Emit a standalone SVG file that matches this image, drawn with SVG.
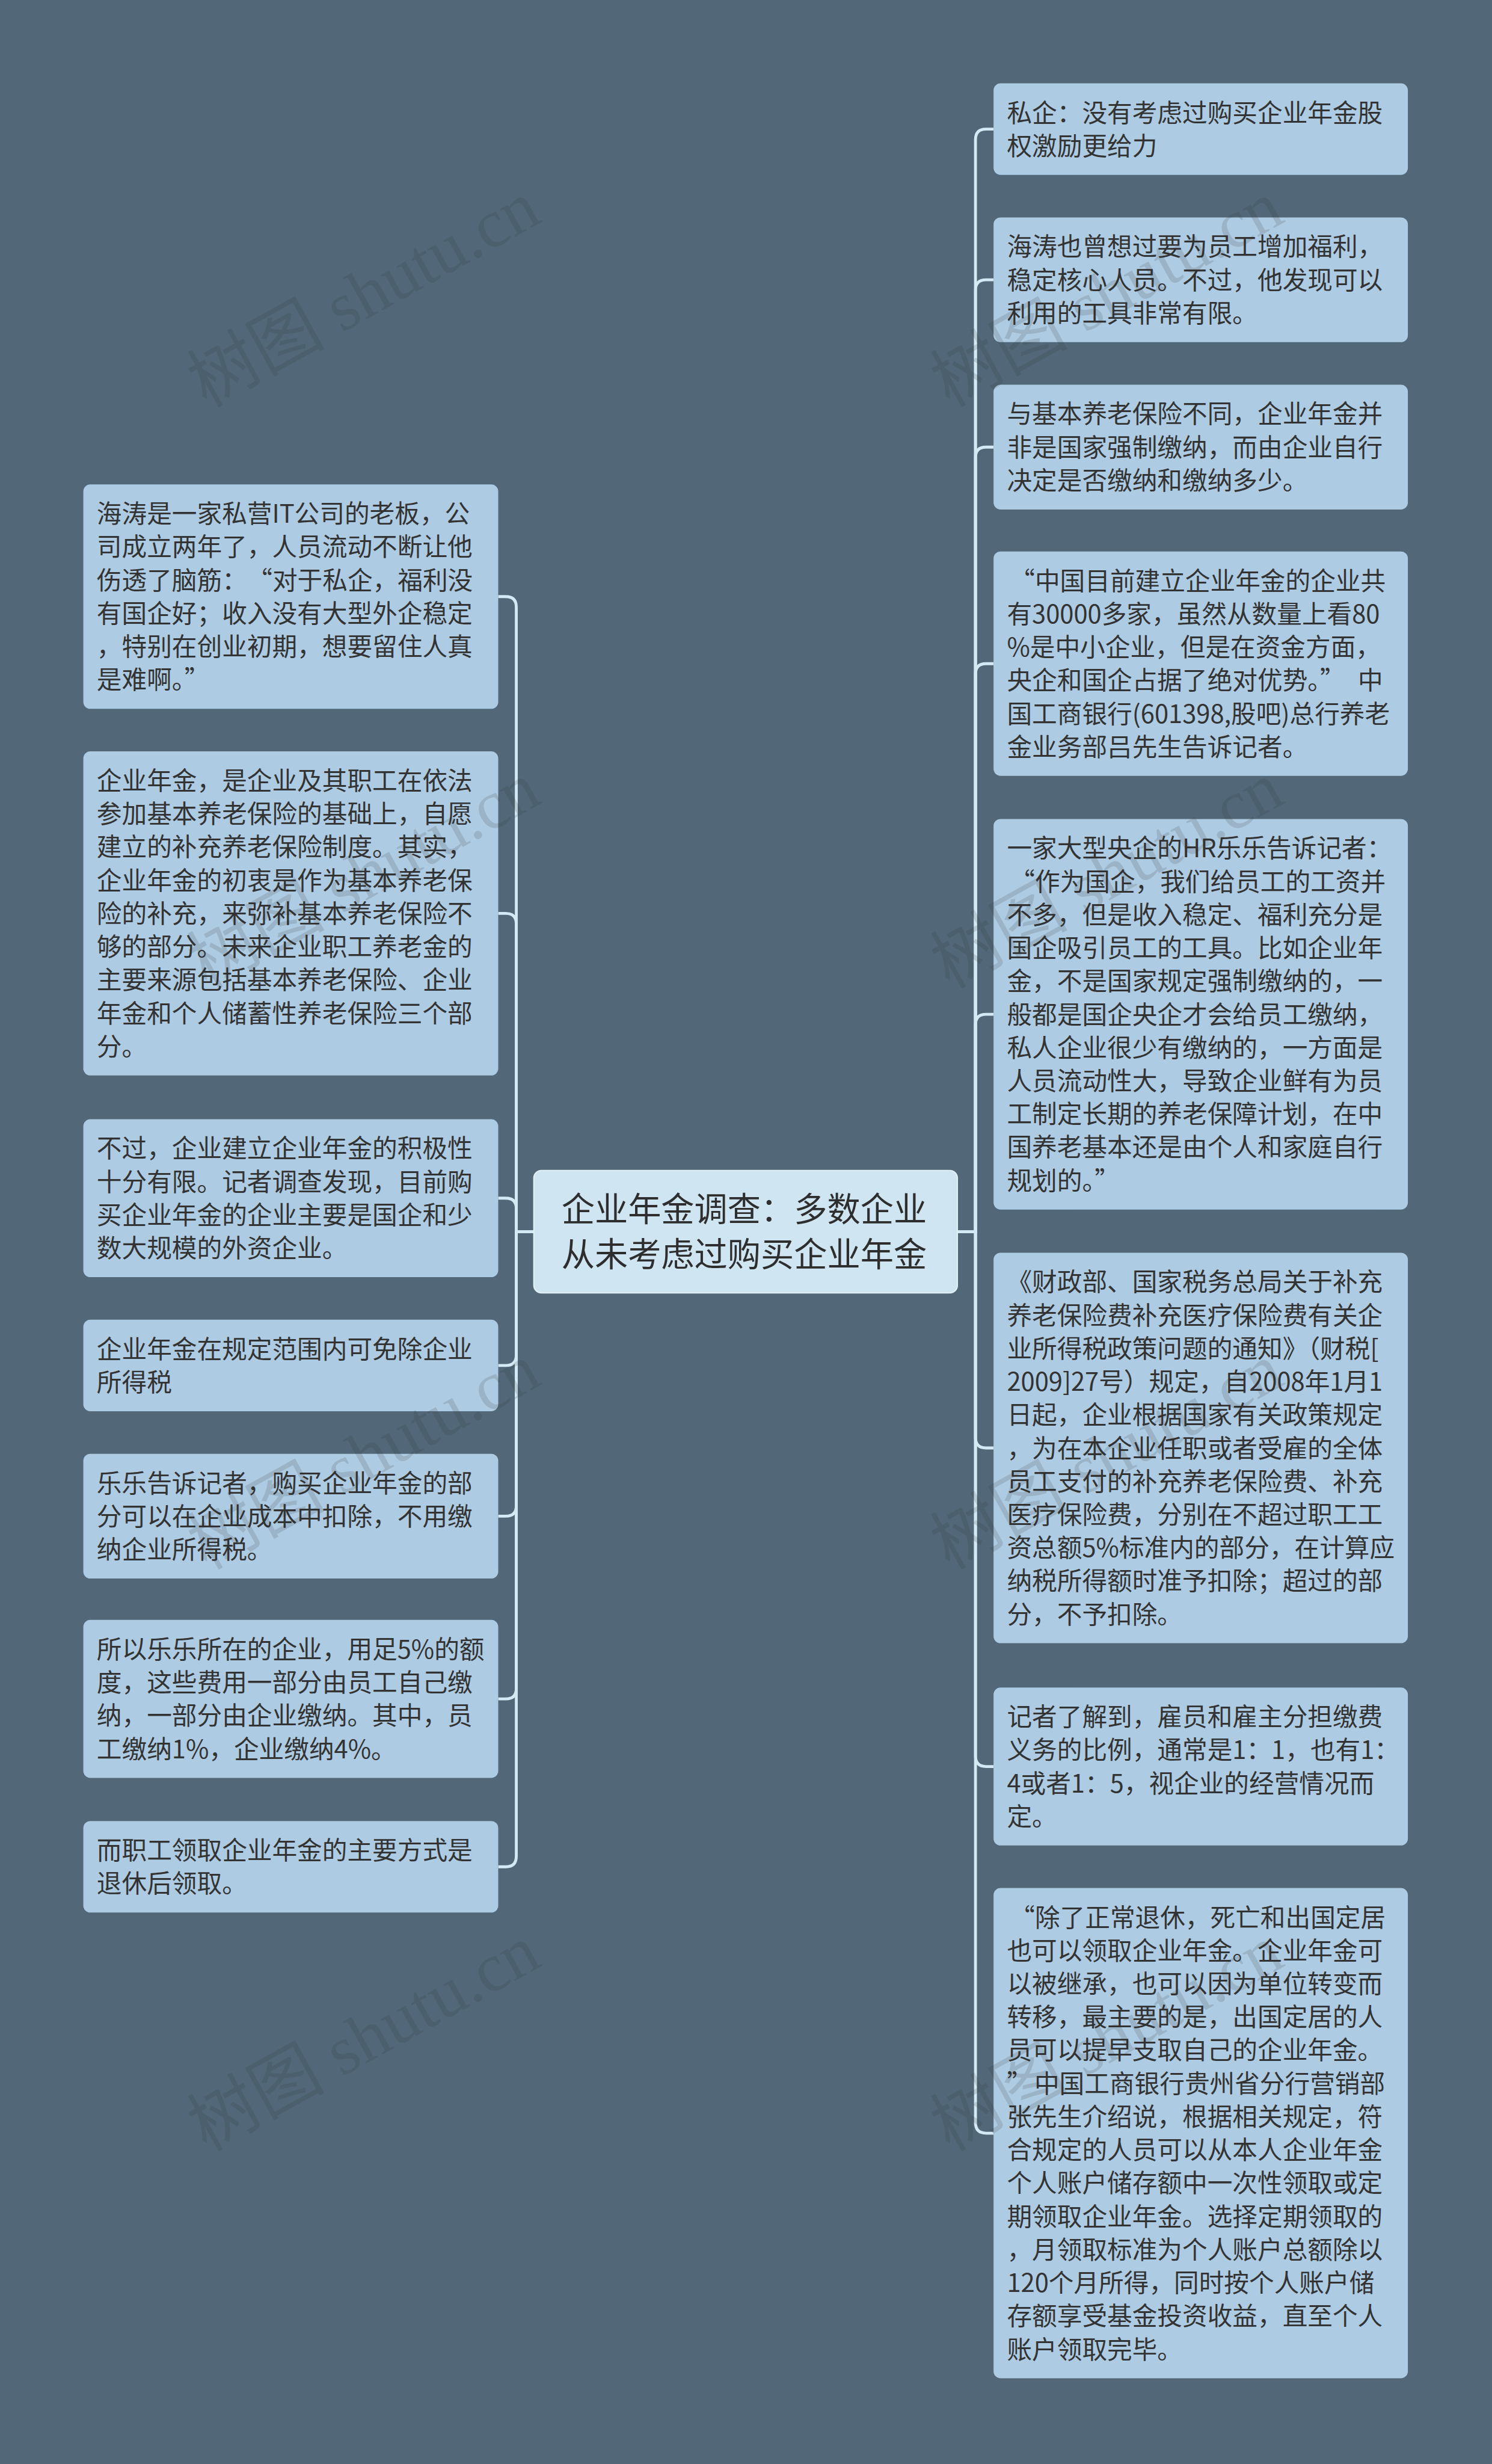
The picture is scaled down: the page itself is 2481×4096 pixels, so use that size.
<svg xmlns="http://www.w3.org/2000/svg" width="2481" height="4096" viewBox="0 0 2481 4096">
<style>
.bg{fill:#526878}
.node{fill:#adcbe2}
.root{fill:#cfe5f2;stroke:#e2f0f8;stroke-width:2}
.t{font-family:"Noto Sans CJK SC","Liberation Sans",sans-serif;font-size:43px;fill:#333333}
.rt{font-family:"Noto Sans CJK SC","Liberation Sans",sans-serif;font-size:57px;fill:#2e2e2e}
.c{fill:none;stroke:#d3e9f4;stroke-width:5}
.wm{font-family:"Liberation Serif","Noto Sans CJK SC",serif;font-size:118px;fill:#2a2a2a;opacity:0.14}
</style>
<rect class="bg" x="0" y="0" width="2481" height="4096"/>
<g transform="scale(0.969)">
<g id="connectors">
<path class="c" d="M916 2113 H886 V1041.5 Q886 1023.5 868 1023.5 H855"/>
<path class="c" d="M916 2113 H886 V1585 Q886 1567 868 1567 H855"/>
<path class="c" d="M916 2113 H886 V2073.5 Q886 2055.5 868 2055.5 H855"/>
<path class="c" d="M916 2113 H886 V2324.5 Q886 2342.5 868 2342.5 H855"/>
<path class="c" d="M916 2113 H886 V2583 Q886 2601 868 2601 H855"/>
<path class="c" d="M916 2113 H886 V2896.5 Q886 2914.5 868 2914.5 H855"/>
<path class="c" d="M916 2113 H886 V3184.5 Q886 3202.5 868 3202.5 H855"/>
<path class="c" d="M1643 2113 H1674 V239.5 Q1674 221.5 1692 221.5 H1705"/>
<path class="c" d="M1643 2113 H1674 V498 Q1674 480 1692 480 H1705"/>
<path class="c" d="M1643 2113 H1674 V785 Q1674 767 1692 767 H1705"/>
<path class="c" d="M1643 2113 H1674 V1156.5 Q1674 1138.5 1692 1138.5 H1705"/>
<path class="c" d="M1643 2113 H1674 V1758 Q1674 1740 1692 1740 H1705"/>
<path class="c" d="M1643 2113 H1674 V2466 Q1674 2484 1692 2484 H1705"/>
<path class="c" d="M1643 2113 H1674 V3012.5 Q1674 3030.5 1692 3030.5 H1705"/>
<path class="c" d="M1643 2113 H1674 V3641.5 Q1674 3659.5 1692 3659.5 H1705"/>
</g>
<g id="root">
<rect class="root" x="916" y="2008" width="727" height="210" rx="13"/>
<text class="rt" text-anchor="middle"><tspan x="1277" y="2095">企业年金调查：多数企业</tspan><tspan x="1277" y="2172">从未考虑过购买企业年金</tspan></text>
</g>
<g id="L1">
<rect class="node" x="143" y="831" width="712" height="385" rx="12"/>
<text class="t"><tspan x="166" y="897">海涛是一家私营IT公司的老板，公</tspan><tspan x="166" y="954">司成立两年了，人员流动不断让他</tspan><tspan x="166" y="1011">伤透了脑筋：<tspan dx="22">“</tspan>对于私企，福利没</tspan><tspan x="166" y="1068">有国企好；收入没有大型外企稳定</tspan><tspan x="166" y="1125">，特别在创业初期，想要留住人真</tspan><tspan x="166" y="1182">是难啊。”</tspan></text>
</g>
<g id="L2">
<rect class="node" x="143" y="1289" width="712" height="556" rx="12"/>
<text class="t"><tspan x="166" y="1355">企业年金，是企业及其职工在依法</tspan><tspan x="166" y="1412">参加基本养老保险的基础上，自愿</tspan><tspan x="166" y="1469">建立的补充养老保险制度。其实，</tspan><tspan x="166" y="1526">企业年金的初衷是作为基本养老保</tspan><tspan x="166" y="1583">险的补充，来弥补基本养老保险不</tspan><tspan x="166" y="1640">够的部分。未来企业职工养老金的</tspan><tspan x="166" y="1697">主要来源包括基本养老保险、企业</tspan><tspan x="166" y="1754">年金和个人储蓄性养老保险三个部</tspan><tspan x="166" y="1811">分。</tspan></text>
</g>
<g id="L3">
<rect class="node" x="143" y="1920" width="712" height="271" rx="12"/>
<text class="t"><tspan x="166" y="1986">不过，企业建立企业年金的积极性</tspan><tspan x="166" y="2043">十分有限。记者调查发现，目前购</tspan><tspan x="166" y="2100">买企业年金的企业主要是国企和少</tspan><tspan x="166" y="2157">数大规模的外资企业。</tspan></text>
</g>
<g id="L4">
<rect class="node" x="143" y="2264" width="712" height="157" rx="12"/>
<text class="t"><tspan x="166" y="2330">企业年金在规定范围内可免除企业</tspan><tspan x="166" y="2387">所得税</tspan></text>
</g>
<g id="L5">
<rect class="node" x="143" y="2494" width="712" height="214" rx="12"/>
<text class="t"><tspan x="166" y="2560">乐乐告诉记者，购买企业年金的部</tspan><tspan x="166" y="2617">分可以在企业成本中扣除，不用缴</tspan><tspan x="166" y="2674">纳企业所得税。</tspan></text>
</g>
<g id="L6">
<rect class="node" x="143" y="2779" width="712" height="271" rx="12"/>
<text class="t"><tspan x="166" y="2845">所以乐乐所在的企业，用足5%的额</tspan><tspan x="166" y="2902">度，这些费用一部分由员工自己缴</tspan><tspan x="166" y="2959">纳，一部分由企业缴纳。其中，员</tspan><tspan x="166" y="3016">工缴纳1%，企业缴纳4%。</tspan></text>
</g>
<g id="L7">
<rect class="node" x="143" y="3124" width="712" height="157" rx="12"/>
<text class="t"><tspan x="166" y="3190">而职工领取企业年金的主要方式是</tspan><tspan x="166" y="3247">退休后领取。</tspan></text>
</g>
<g id="R1">
<rect class="node" x="1705" y="143" width="711" height="157" rx="12"/>
<text class="t"><tspan x="1728" y="209">私企：没有考虑过购买企业年金股</tspan><tspan x="1728" y="266">权激励更给力</tspan></text>
</g>
<g id="R2">
<rect class="node" x="1705" y="373" width="711" height="214" rx="12"/>
<text class="t"><tspan x="1728" y="439">海涛也曾想过要为员工增加福利，</tspan><tspan x="1728" y="496">稳定核心人员。不过，他发现可以</tspan><tspan x="1728" y="553">利用的工具非常有限。</tspan></text>
</g>
<g id="R3">
<rect class="node" x="1705" y="660" width="711" height="214" rx="12"/>
<text class="t"><tspan x="1728" y="726">与基本养老保险不同，企业年金并</tspan><tspan x="1728" y="783">非是国家强制缴纳，而由企业自行</tspan><tspan x="1728" y="840">决定是否缴纳和缴纳多少。</tspan></text>
</g>
<g id="R4">
<rect class="node" x="1705" y="946" width="711" height="385" rx="12"/>
<text class="t"><tspan x="1733" y="1012">“中国目前建立企业年金的企业共</tspan><tspan x="1728" y="1069">有30000多家，虽然从数量上看80</tspan><tspan x="1728" y="1126">%是中小企业，但是在资金方面，</tspan><tspan x="1728" y="1183">央企和国企占据了绝对优势。”<tspan dx="22">中</tspan></tspan><tspan x="1728" y="1240">国工商银行(601398,股吧)总行养老</tspan><tspan x="1728" y="1297">金业务部吕先生告诉记者。</tspan></text>
</g>
<g id="R5">
<rect class="node" x="1705" y="1405" width="711" height="670" rx="12"/>
<text class="t"><tspan x="1728" y="1471">一家大型央企的HR乐乐告诉记者：</tspan><tspan x="1733" y="1528">“作为国企，我们给员工的工资并</tspan><tspan x="1728" y="1585">不多，但是收入稳定、福利充分是</tspan><tspan x="1728" y="1642">国企吸引员工的工具。比如企业年</tspan><tspan x="1728" y="1699">金，不是国家规定强制缴纳的，一</tspan><tspan x="1728" y="1756">般都是国企央企才会给员工缴纳，</tspan><tspan x="1728" y="1813">私人企业很少有缴纳的，一方面是</tspan><tspan x="1728" y="1870">人员流动性大，导致企业鲜有为员</tspan><tspan x="1728" y="1927">工制定长期的养老保障计划，在中</tspan><tspan x="1728" y="1984">国养老基本还是由个人和家庭自行</tspan><tspan x="1728" y="2041">规划的。”</tspan></text>
</g>
<g id="R6">
<rect class="node" x="1705" y="2149" width="711" height="670" rx="12"/>
<text class="t"><tspan x="1728" y="2215">《财政部、国家税务总局关于补充</tspan><tspan x="1728" y="2272">养老保险费补充医疗保险费有关企</tspan><tspan x="1728" y="2329">业所得税政策问题的通知》（财税[</tspan><tspan x="1728" y="2386">2009]27号）规定，自2008年1月1</tspan><tspan x="1728" y="2443">日起，企业根据国家有关政策规定</tspan><tspan x="1728" y="2500">，为在本企业任职或者受雇的全体</tspan><tspan x="1728" y="2557">员工支付的补充养老保险费、补充</tspan><tspan x="1728" y="2614">医疗保险费，分别在不超过职工工</tspan><tspan x="1728" y="2671">资总额5%标准内的部分，在计算应</tspan><tspan x="1728" y="2728">纳税所得额时准予扣除；超过的部</tspan><tspan x="1728" y="2785">分，不予扣除。</tspan></text>
</g>
<g id="R7">
<rect class="node" x="1705" y="2895" width="711" height="271" rx="12"/>
<text class="t"><tspan x="1728" y="2961">记者了解到，雇员和雇主分担缴费</tspan><tspan x="1728" y="3018">义务的比例，通常是1：1，也有1：</tspan><tspan x="1728" y="3075">4或者1：5，视企业的经营情况而</tspan><tspan x="1728" y="3132">定。</tspan></text>
</g>
<g id="R8">
<rect class="node" x="1705" y="3239" width="711" height="841" rx="12"/>
<text class="t"><tspan x="1733" y="3305">“除了正常退休，死亡和出国定居</tspan><tspan x="1728" y="3362">也可以领取企业年金。企业年金可</tspan><tspan x="1728" y="3419">以被继承，也可以因为单位转变而</tspan><tspan x="1728" y="3476">转移，最主要的是，出国定居的人</tspan><tspan x="1728" y="3533">员可以提早支取自己的企业年金。</tspan><tspan x="1728" y="3590">”<tspan dx="4">中国工商银行贵州省分行营销部</tspan></tspan><tspan x="1728" y="3647">张先生介绍说，根据相关规定，符</tspan><tspan x="1728" y="3704">合规定的人员可以从本人企业年金</tspan><tspan x="1728" y="3761">个人账户储存额中一次性领取或定</tspan><tspan x="1728" y="3818">期领取企业年金。选择定期领取的</tspan><tspan x="1728" y="3875">，月领取标准为个人账户总额除以</tspan><tspan x="1728" y="3932">120个月所得，同时按个人账户储</tspan><tspan x="1728" y="3989">存额享受基金投资收益，直至个人</tspan><tspan x="1728" y="4046">账户领取完毕。</tspan></text>
</g>
<g id="watermarks">
<text class="wm" transform="translate(354 700) rotate(-29)">树图 shutu.cn</text>
<text class="wm" transform="translate(1629 700) rotate(-29)">树图 shutu.cn</text>
<text class="wm" transform="translate(354 1697) rotate(-29)">树图 shutu.cn</text>
<text class="wm" transform="translate(1629 1697) rotate(-29)">树图 shutu.cn</text>
<text class="wm" transform="translate(354 2694) rotate(-29)">树图 shutu.cn</text>
<text class="wm" transform="translate(1629 2694) rotate(-29)">树图 shutu.cn</text>
<text class="wm" transform="translate(354 3692) rotate(-29)">树图 shutu.cn</text>
<text class="wm" transform="translate(1629 3692) rotate(-29)">树图 shutu.cn</text>
</g>
</g>
</svg>
